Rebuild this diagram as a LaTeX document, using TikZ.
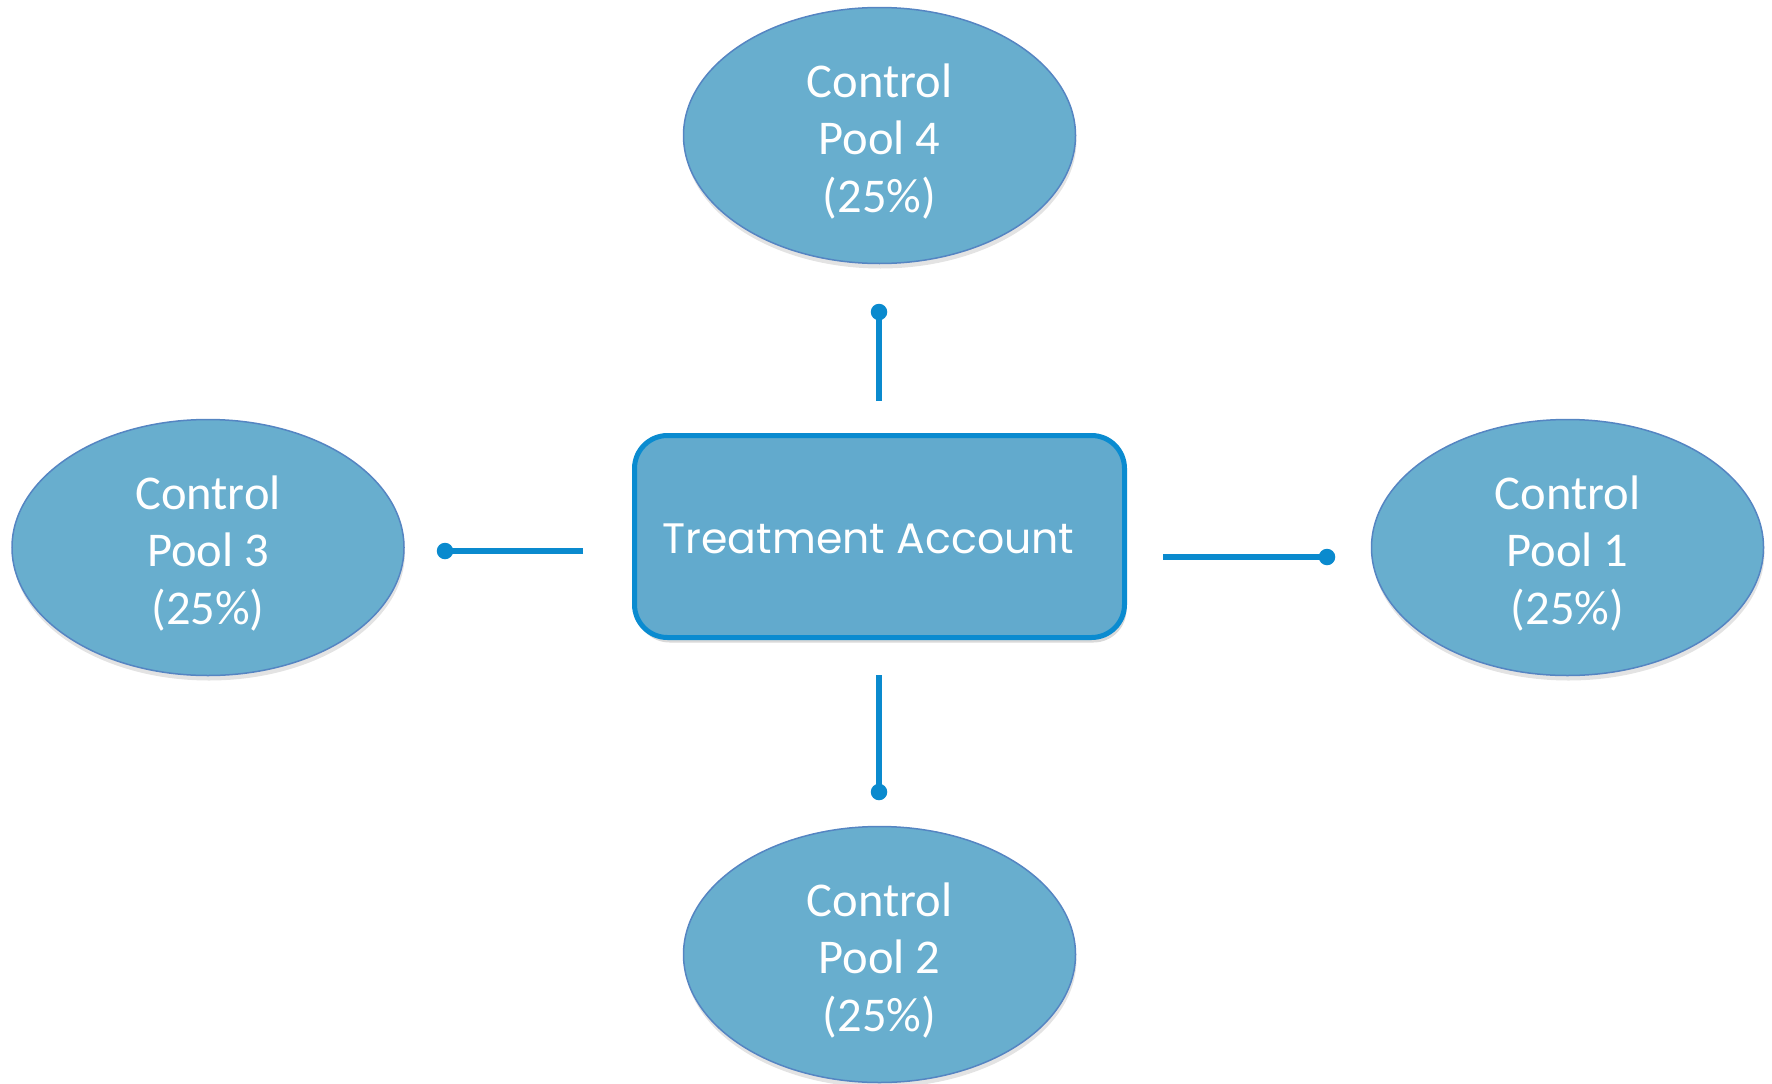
\documentclass[tikz,border=0pt]{standalone}
\usepackage{fontspec}
\setmainfont{Carlito}
\newfontfamily\geofont{Poppins}
\usetikzlibrary{shapes.geometric,shadows}
\definecolor{poolfill}{HTML}{68AECE}
\definecolor{poolline}{HTML}{5585C2}
\definecolor{rectfill}{HTML}{62AACD}
\definecolor{rectline}{HTML}{0A8BD0}
\definecolor{connblue}{HTML}{0A8ACE}
\newcommand\lowerline[1]{\raisebox{-6pt}[\height][\depth]{#1}}
\tikzset{
  pool/.style={ellipse, draw=poolline, line width=1.5pt, fill=poolfill,
    minimum width=392pt, minimum height=256pt, inner sep=0pt,
    text=white, align=center, font=\fontsize{48.5}{57.5}\selectfont,
    drop shadow={shadow xshift=1pt, shadow yshift=-5pt, opacity=0.22}},
  treat/.style={rectangle, rounded corners=33pt, draw=rectline, line width=5pt,
    fill=rectfill, minimum width=490pt, minimum height=202pt, inner sep=0pt,
    text=white, font=\geofont\fontsize{42.6}{50}\selectfont,
    drop shadow={shadow xshift=2pt, shadow yshift=-5pt, opacity=0.3}},
  conn/.style={draw=connblue, line width=6pt},
  dotnode/.style={circle, fill=connblue, inner sep=0pt, minimum size=16.5pt},
}
\begin{document}
\begin{tikzpicture}[x=1pt,y=-1pt]
\useasboundingbox (0,0) rectangle (1772,1084);
% nodes
\node[treat] (ta) at (879.5,536.5) {\hspace*{-22pt}\raisebox{-2pt}[\height][\depth]{Treatment Account}};
\node[pool] (p4) at (879.5,135.5) {\lowerline{Control}\\\lowerline{Pool 4}\\\lowerline{(25\%)}};
\node[pool] (p3) at (208,547.5) {\lowerline{Control}\\\lowerline{Pool 3}\\\lowerline{(25\%)}};
\node[pool] (p1) at (1567.5,547.5) {\lowerline{Control}\\\lowerline{Pool 1}\\\lowerline{(25\%)}};
\node[pool] (p2) at (879.5,954.5) {\lowerline{Control}\\\lowerline{Pool 2}\\\lowerline{(25\%)}};
% connector dots and free ends
\node[dotnode] (d4) at (879,312) {};
\node[dotnode] (d3) at (445,551) {};
\node[dotnode] (d1) at (1327,557) {};
\node[dotnode] (d2) at (879,792) {};
\coordinate (e4) at (879,401);
\coordinate (e3) at (583,551);
\coordinate (e1) at (1163,557);
\coordinate (e2) at (879,675);
\draw[conn] (e4) -- (d4.center);
\draw[conn] (e3) -- (d3.center);
\draw[conn] (e1) -- (d1.center);
\draw[conn] (e2) -- (d2.center);
\end{tikzpicture}
\end{document}
